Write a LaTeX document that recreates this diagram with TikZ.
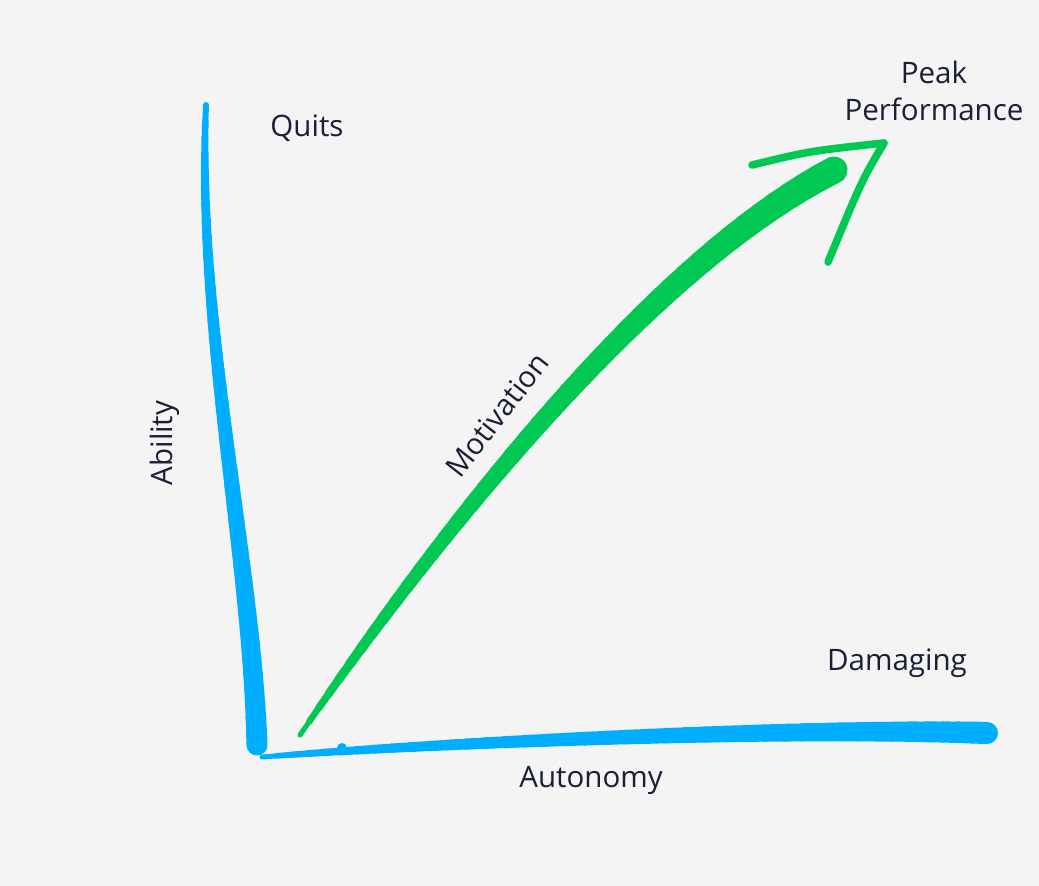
\documentclass[tikz,border=0pt]{standalone}
\usepackage{fontspec}
\setmainfont{Open Sans}
\usetikzlibrary{calc}
\usetikzlibrary{positioning}
\definecolor{axisblue}{HTML}{00AEFF}
\definecolor{arrowgreen}{HTML}{00C853}
\definecolor{inkdark}{HTML}{1A1F36}
\definecolor{paper}{HTML}{F4F4F4}
\tikzset{lbl/.style={text=inkdark, font=\fontsize{21}{26}\selectfont, inner sep=0, align=center}}
\tikzset{brush/.style={line cap=round, line join=round}}

\begin{document}
\begin{tikzpicture}[x=0.025cm, y=-0.025cm]
\fill [paper] (0,0) rectangle (1039,886);
\useasboundingbox (0,0) rectangle (1039,886);
% ability axis
\coordinate (abTop) at (206,105);
\coordinate (origin) at (257,745);
\foreach \i in {0,...,40}
  \path (abTop) .. controls (196,320) and (252,560) .. (origin) coordinate [pos=\i/40] (ab\i);
\foreach \i [count=\j from 1] in {0,...,39}
  \draw [brush, axisblue, line width={(6+15*(\i/39)^0.9)*0.711pt}] (ab\i) -- (ab\j);
% autonomy axis
\coordinate (auStart) at (262,757);
\coordinate (auEnd) at (987,733);
\foreach \i in {0,...,40}
  \path (auStart) .. controls (450,742) and (800,727) .. (auEnd) coordinate [pos=\i/40] (au\i);
\foreach \i [count=\j from 1] in {0,...,39}
  \draw [brush, axisblue, line width={(5+17*(\i/39)^0.85)*0.711pt}] (au\i) -- (au\j);
\fill [axisblue] (342,748) circle (5);
% motivation arrow
\coordinate (moStart) at (300,735);
\coordinate (moEnd) at (834,170);
\foreach \i in {0,...,40}
  \path (moStart) .. controls (420,560) and (640,270) .. (moEnd) coordinate [pos=\i/40] (mo\i);
\foreach \i [count=\j from 1] in {0,...,39}
  \draw [brush, arrowgreen, line width={(5+22*(\i/39)^0.75)*0.711pt}] (mo\i) -- (mo\j);
\coordinate (headL) at (752,165);
\coordinate (headTip) at (884,143);
\coordinate (headR) at (828,262);
\draw [brush, arrowgreen, line width=5.4pt] (headL) .. controls (810,151) .. (headTip) .. controls (862,180) .. (headR);
% labels
\node [lbl] (quits) at (307,128) {Quits};
\node [lbl] (peak) at (934,91) {Peak\\Performance};
\node [lbl, rotate=90] (ability) at (165,443) {Ability};
\node [lbl, rotate=52] (motivation) at (497,415) {Motivation};
\node [lbl] (damaging) at (897,663) {Damaging};
\node [lbl] (autonomy) at (591,780) {Autonomy};
\end{tikzpicture}
\end{document}
